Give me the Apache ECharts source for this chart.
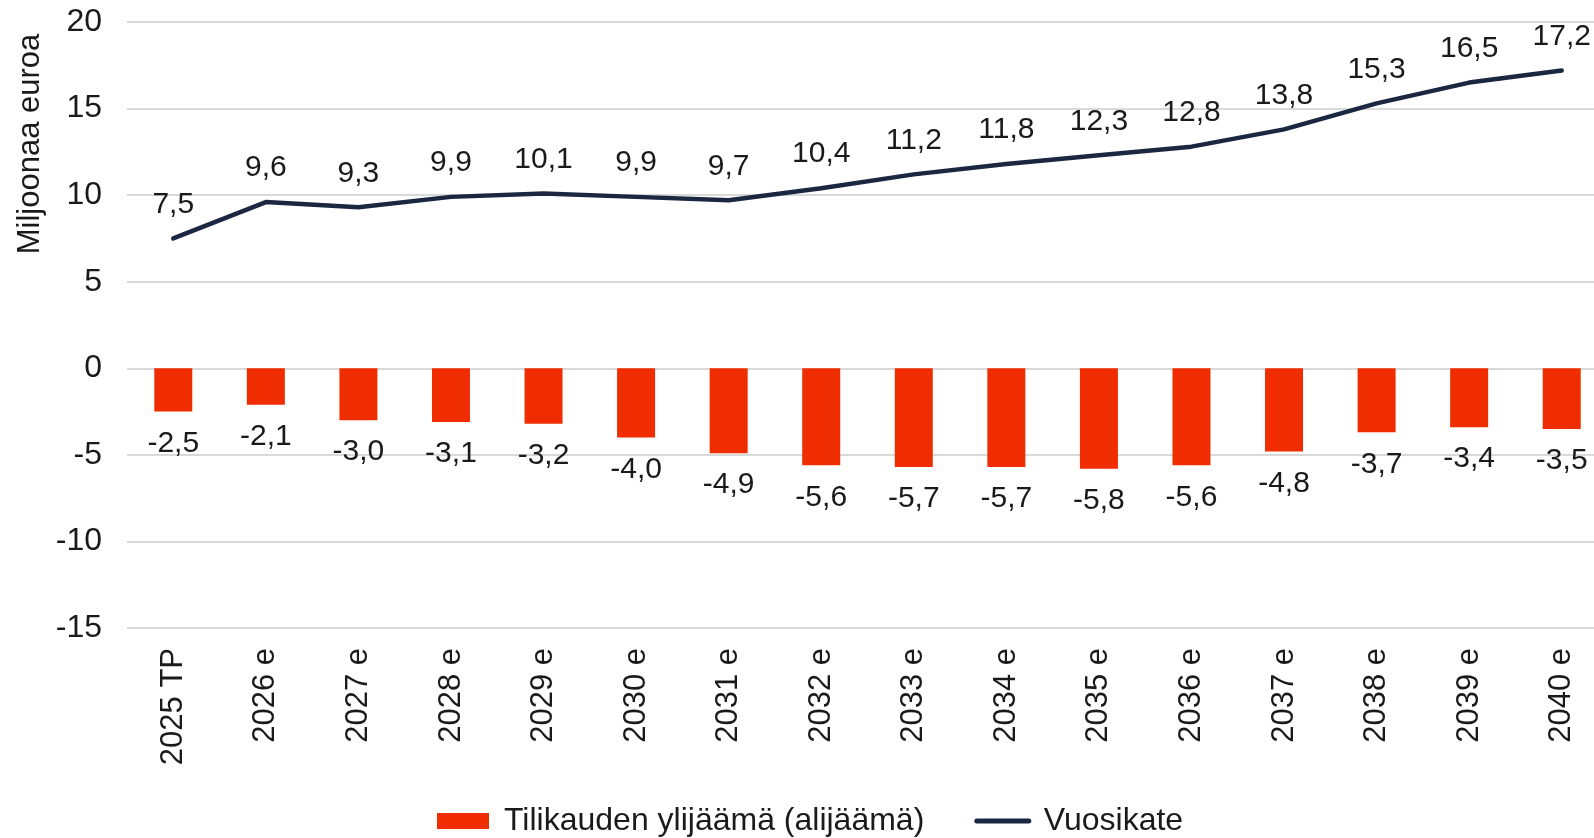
<!DOCTYPE html>
<html>
<head>
<meta charset="utf-8">
<title>Vuosikate ja tilikauden tulos</title>
<script src="https://cdn.jsdelivr.net/npm/echarts@6/dist/echarts.min.js"></script>
<style>
  html, body { margin: 0; padding: 0; background: #fff; }
  #chart { width: 1594px; height: 838px; }
</style>
</head>
<body>
<div id="chart"></div>
<script>
const years = ['2025 TP', '2026 e', '2027 e', '2028 e', '2029 e', '2030 e', '2031 e', '2032 e',
  '2033 e', '2034 e', '2035 e', '2036 e', '2037 e', '2038 e', '2039 e', '2040 e']
const ylijaama = [-2.5, -2.1, -3.0, -3.1, -3.2, -4.0, -4.9, -5.6, -5.7, -5.7, -5.8, -5.6, -4.8, -3.7, -3.4, -3.5]
const vuosikate = [7.5, 9.6, 9.3, 9.9, 10.1, 9.9, 9.7, 10.4, 11.2, 11.8, 12.3, 12.8, 13.8, 15.3, 16.5, 17.2]

const FONT = '"Liberation Sans", Arial, sans-serif'
const fmt = (v) => v.toFixed(1).replace('.', ',')

const chart = echarts.init(document.getElementById('chart'))

chart.setOption({
  animation: false,
  textStyle: { fontFamily: FONT },
  // the plot runs a little past the right edge, like in the original
  grid: { left: 127, top: 22, width: 1481, height: 606, containLabel: false, outerBoundsMode: 'none' },
  legend: {
    bottom: -4,
    left: 432,
    itemWidth: 52,
    itemHeight: 16,
    itemGap: 50,
    textStyle: { fontSize: 32, color: '#1a1a1a', fontFamily: FONT, padding: [0, 0, 0, 10] },
    data: [
      { name: 'Tilikauden ylijäämä (alijäämä)', icon: 'rect' },
      { name: 'Vuosikate', itemStyle: { opacity: 0 }, lineStyle: { width: 5, color: '#1b2640' } }
    ]
  },
  graphic: [{
    type: 'text',
    x: 30,
    y: 144,
    rotation: Math.PI / 2,
    style: {
      text: 'Miljoonaa euroa',
      font: '31px ' + FONT,
      fill: '#1a1a1a',
      textAlign: 'center',
      textVerticalAlign: 'middle'
    }
  }],
  xAxis: {
    type: 'category',
    data: years,
    position: 'bottom',
    axisLine: { show: false, onZero: false },
    axisTick: { show: false },
    axisLabel: { rotate: 90, margin: 20, fontSize: 31, color: '#1a1a1a', interval: 0 }
  },
  yAxis: {
    type: 'value',
    min: -15,
    max: 20,
    interval: 5,
    axisLine: { show: false },
    axisTick: { show: false },
    axisLabel: { fontSize: 32, color: '#1a1a1a', margin: 25 },
    splitLine: { lineStyle: { color: '#d9d9d9', width: 2 } }
  },
  series: [
    {
      name: 'Tilikauden ylijäämä (alijäämä)',
      type: 'bar',
      data: ylijaama,
      barWidth: 38,
      itemStyle: { color: '#f02d00' },
      label: {
        show: true,
        position: 'bottom',
        distance: 17,
        fontSize: 30,
        color: '#1a1a1a',
        formatter: (p) => fmt(p.value)
      }
    },
    {
      name: 'Vuosikate',
      type: 'line',
      data: vuosikate,
      symbol: 'circle',
      symbolSize: 0,
      showSymbol: true,
      lineStyle: { color: '#1b2640', width: 4.5, cap: 'round', join: 'round' },
      itemStyle: { color: '#1b2640' },
      label: {
        show: true,
        position: 'top',
        distance: 19,
        fontSize: 30,
        color: '#1a1a1a',
        formatter: (p) => fmt(p.value)
      }
    }
  ]
})
</script>
</body>
</html>
